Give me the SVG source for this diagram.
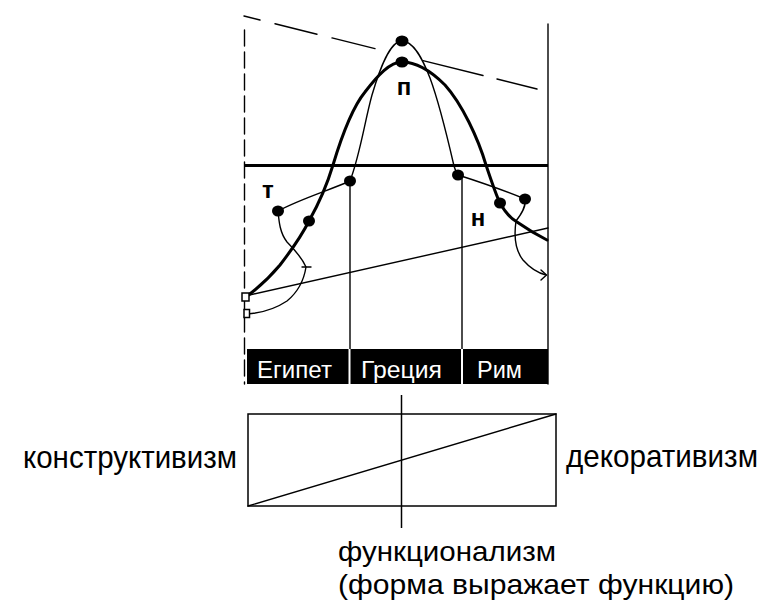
<svg xmlns="http://www.w3.org/2000/svg" width="774" height="601" viewBox="0 0 774 601">
<style>
.ln{fill:none;stroke:#000;stroke-width:1.4;stroke-linecap:round;stroke-linejoin:round}
.thk{fill:none;stroke:#000;stroke-width:3;stroke-linecap:round;stroke-linejoin:round}
.dot{fill:#000}
.sq{fill:#fff;stroke:#000;stroke-width:1.5}
.lbl{font-family:"Liberation Sans",Arial,sans-serif;font-size:32px;fill:#000}
.lbl2{font-family:"Liberation Sans",Arial,sans-serif;font-size:28px;fill:#000}
.bar{font-family:"Liberation Sans",Arial,sans-serif;font-size:23px;fill:#fff}
.mk{font-family:"Liberation Sans",Arial,sans-serif;font-size:24px;font-weight:bold;fill:#000}
</style>
<rect width="774" height="601" fill="#fff"/>
<g id="frame">
<line x1="244.5" y1="30" x2="244.5" y2="384" class="ln" stroke-dasharray="16 6" stroke-linecap="butt"/>
<line x1="548" y1="24" x2="548" y2="384" class="ln"/>
<line x1="245" y1="165.5" x2="548" y2="165.5" stroke="#000" stroke-width="3"/>
<line x1="350" y1="181" x2="350" y2="350" class="ln"/>
<line x1="462" y1="175" x2="462" y2="350" class="ln"/>
</g>
<g id="timeline">
<rect x="247" y="349" width="301" height="35" fill="#000"/>
<line x1="349.5" y1="349" x2="349.5" y2="384" stroke="#fff" stroke-width="2"/>
<line x1="462" y1="349" x2="462" y2="384" stroke="#fff" stroke-width="2"/>
<text class="bar" x="257" y="378" textLength="75" lengthAdjust="spacingAndGlyphs">Египет</text>
<text class="bar" x="361" y="378" textLength="81" lengthAdjust="spacingAndGlyphs">Греция</text>
<text class="bar" x="477" y="378" textLength="45" lengthAdjust="spacingAndGlyphs">Рим</text>
</g>
<g id="connectors">
<path class="ln" stroke-linecap="butt" d="M244,16 L260,20 M275,23.7 L317,34.2 M332,37.9 L375,48.6 M423,60.6 L483,75.5 M497,79 L537,89"/>
<path class="thk" d="M246,297 C258,288 270,277 280,265 C290,252 302,235 309,221 C318,205 327,185 333,165 C342,135 352,108 365,92 C378,75 390,62 402,62 C418,62 432,72 445,85 C462,104 478,138 486,165 C491,180 496,195 500,203 C505,212 510,218 517,222 C527,229 537,235 547,240"/>
<path class="ln" d="M350,181 C360,155 365,120 372,95 C380,68 390,41 402,41 C414,41 423,60 430,78 C440,105 448,140 454,166 C455,170 457,173 458,175"/>
<path class="ln" d="M350,181 C330,190 300,199 278,211 C279,222 280,233 287,242 C295,250 302,258 306,267 C304,280 298,292 287,301 C275,309 262,313 247,314"/>
<line x1="302" y1="267" x2="311" y2="267" class="ln"/>
<path class="ln" d="M458,175 C480,182 503,190 525,199 C526,206 523,212 516,221 C514,235 515,250 523,260 C530,268 538,273 546,275"/>
<polyline class="ln" points="541,270 546.5,275 541,280"/>
<line x1="245" y1="296" x2="548" y2="228" class="ln"/>
<rect class="sq" x="242" y="293" width="7" height="8"/>
<rect class="sq" x="244" y="309.5" width="5.5" height="8"/>
</g>
<g id="points">
<ellipse class="dot" cx="402" cy="41" rx="6.5" ry="5.5"/>
<ellipse class="dot" cx="402" cy="62" rx="6.5" ry="5.5"/>
<ellipse class="dot" cx="350" cy="181" rx="6" ry="5.5"/>
<ellipse class="dot" cx="278" cy="211" rx="6" ry="5.5"/>
<ellipse class="dot" cx="309" cy="221" rx="6" ry="5.5"/>
<ellipse class="dot" cx="458" cy="175" rx="6" ry="5.5"/>
<ellipse class="dot" cx="500" cy="203" rx="6" ry="5.5"/>
<ellipse class="dot" cx="525" cy="199" rx="6" ry="5.5"/>
<text class="mk" x="404" y="95" text-anchor="middle">п</text>
<text class="mk" x="268" y="198" text-anchor="middle">т</text>
<text class="mk" x="478" y="226" text-anchor="middle">н</text>
</g>
<g id="scale">
<rect x="248" y="414" width="308" height="92" fill="none" stroke="#000" stroke-width="1.5"/>
<line x1="401.5" y1="395" x2="401.5" y2="528" stroke="#000" stroke-width="1.5"/>
<line x1="248" y1="506" x2="556" y2="414" class="ln"/>
<text class="lbl" x="23" y="468" textLength="214" lengthAdjust="spacingAndGlyphs">конструктивизм</text>
<text class="lbl" x="566" y="467" textLength="192" lengthAdjust="spacingAndGlyphs">декоративизм</text>
<text class="lbl2" x="338" y="561" textLength="218" lengthAdjust="spacingAndGlyphs">функционализм</text>
<text class="lbl2" x="338" y="594" textLength="396" lengthAdjust="spacingAndGlyphs">(форма выражает функцию)</text>
</g>
</svg>
